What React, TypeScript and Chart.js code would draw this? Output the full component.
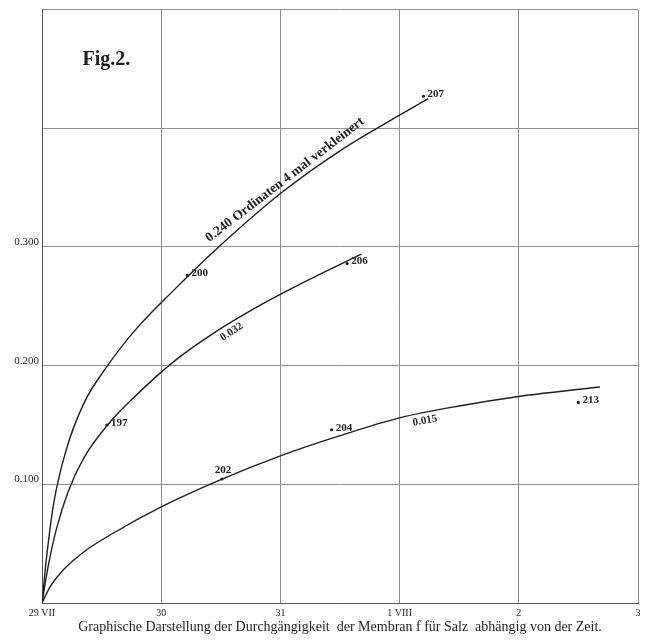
import React, { useEffect, useRef } from "react";
import { Chart, registerables } from "chart.js";

Chart.register(...registerables);

// ---- data ----
const xTickLabels = ["29 VII", "30", "31", "1 VIII", "2", "3"];
const yTickLabels = ["", "0.100", "0.200", "0.300", "", ""];

const upperDays = [0, 0.04, 0.1, 0.2, 0.35, 0.55, 0.8, 1.1, 1.45, 2.0, 2.5, 3.0, 3.24];
const upperValues = [0, 0.04, 0.085, 0.128, 0.168, 0.2, 0.232, 0.263, 0.297, 0.345, 0.381, 0.411, 0.425];

const middleDays = [0, 0.05, 0.12, 0.22, 0.35, 0.55, 0.8, 1.1, 1.45, 1.85, 2.25, 2.68];
const middleValues = [0, 0.03, 0.062, 0.094, 0.122, 0.15, 0.176, 0.203, 0.228, 0.252, 0.273, 0.294];

const lowerDays = [0, 0.07, 0.17, 0.35, 0.6, 1.0, 1.5, 2.0, 2.5, 3.0, 3.5, 4.0, 4.68];
const lowerValues = [0, 0.014, 0.027, 0.043, 0.059, 0.081, 0.104, 0.124, 0.141, 0.156, 0.166, 0.174, 0.182];

const markerNames = ["197", "200", "202", "204", "206", "207", "213"];
const markerDays = [0.545, 1.22, 1.51, 2.43, 2.56, 3.2, 4.5];
const markerValues = [0.15, 0.276, 0.1045, 0.146, 0.286, 0.427, 0.169];

const curveNotes = ["0.240 Ordinaten 4 mal verkleinert", "0.032", "0.015"];
const curveNoteDays = [1.45, 1.47, 3.1];
const curveNoteValues = [0.298, 0.228, 0.158];

const figTitle = "Fig.2.";
const caption =
  "Graphische Darstellung der Durchgängigkeit  der Membran f für Salz  abhängig von der Zeit.";

// ---- styles ----
const SERIF = "'Liberation Serif', 'DejaVu Serif', serif";
const INK = "#1e1e1e";
const GRID = "#8e8e8e";
const noteStyles = [
  { angle: -37.5, below: false, gap: 9, font: `bold 13.5px ${SERIF}` },
  { angle: -33, below: true, gap: 2, font: `bold 11px ${SERIF}` },
  { angle: -10, below: true, gap: 2, font: `bold 11px ${SERIF}` },
];
const markerLabelAbove = [false, false, true, false, false, false, false];

const toPoints = (xs: number[], ys: number[]) => xs.map((x, i) => ({ x, y: ys[i] }));

const annotations = {
  id: "annotations",
  afterDatasetsDraw(chart: any) {
    const { ctx, scales } = chart;
    const xs = scales.x;
    const ys = scales.y;
    ctx.save();
    ctx.fillStyle = INK;

    // Figure title
    ctx.font = `bold 20px ${SERIF}`;
    ctx.textAlign = "left";
    ctx.textBaseline = "middle";
    ctx.fillText(figTitle, xs.getPixelForValue(0.34), ys.getPixelForValue(0.458));

    // Marker labels
    ctx.font = `bold 11px ${SERIF}`;
    markerNames.forEach((name, i) => {
      const px = xs.getPixelForValue(markerDays[i]);
      const py = ys.getPixelForValue(markerValues[i]);
      if (markerLabelAbove[i]) {
        ctx.textAlign = "center";
        ctx.textBaseline = "bottom";
        ctx.fillText(name, px + 1, py - 3);
      } else {
        ctx.textAlign = "left";
        ctx.textBaseline = "middle";
        ctx.fillText(name, px + 4, py - 2);
      }
    });

    // Curve notes
    curveNotes.forEach((note, i) => {
      const st = noteStyles[i];
      const px = xs.getPixelForValue(curveNoteDays[i]);
      const py = ys.getPixelForValue(curveNoteValues[i]);
      ctx.save();
      ctx.translate(px, py);
      ctx.rotate((st.angle * Math.PI) / 180);
      ctx.font = st.font;
      ctx.textAlign = "left";
      ctx.textBaseline = st.below ? "top" : "alphabetic";
      ctx.fillText(note, 0, st.below ? st.gap : -st.gap);
      ctx.restore();
    });
    ctx.restore();
  },
};

export default function App() {
  const ref = useRef<HTMLCanvasElement | null>(null);

  useEffect(() => {
    if (!ref.current) return;
    const lineDs = (xs: number[], ys: number[]) => ({
      data: toPoints(xs, ys),
      showLine: true,
      borderColor: INK,
      borderWidth: 1.4,
      pointRadius: 0,
      cubicInterpolationMode: "monotone" as const,
      fill: false,
    });
    const chart = new Chart(ref.current, {
      type: "scatter",
      data: {
        datasets: [
          lineDs(upperDays, upperValues),
          lineDs(middleDays, middleValues),
          lineDs(lowerDays, lowerValues),
          {
            data: toPoints(markerDays, markerValues),
            showLine: false,
            pointRadius: 1.6,
            pointBackgroundColor: INK,
            pointBorderWidth: 0,
          },
        ],
      },
      options: {
        responsive: false,
        animation: false,
        events: [],
        layout: { padding: { top: 5, right: 11, left: 0, bottom: 0 } },
        plugins: { legend: { display: false }, tooltip: { enabled: false }, title: { display: false } },
        scales: {
          x: {
            type: "linear",
            min: 0,
            max: 5,
            afterFit: (axis: any) => {
              axis.height = 41;
            },
            ticks: {
              stepSize: 1,
              autoSkip: false,
              maxRotation: 0,
              padding: 4,
              color: INK,
              font: { family: SERIF, size: 10 },
              callback: (v: any) => xTickLabels[Math.round(Number(v))] ?? "",
            },
            grid: { color: GRID, lineWidth: 1, drawTicks: false },
            border: { display: true, color: "#555", width: 1 },
            title: {
              display: true,
              text: caption,
              color: INK,
              font: { family: SERIF, size: 14 },
              padding: { top: 0, bottom: 8 },
            },
          },
          y: {
            type: "linear",
            min: 0,
            max: 0.5,
            afterFit: (axis: any) => {
              axis.width = 42;
            },
            ticks: {
              stepSize: 0.1,
              padding: 3,
              labelOffset: -5,
              color: INK,
              font: { family: SERIF, size: 11 },
              callback: (v: any) => yTickLabels[Math.round(Number(v) * 10)] ?? "",
            },
            grid: { color: GRID, lineWidth: 1, drawTicks: false },
            border: { display: true, color: "#555", width: 1 },
          },
        },
      },
      plugins: [annotations],
    });
    return () => chart.destroy();
  }, []);

  return (
    <div style={{ position: "absolute", left: 0, top: 0, width: 649, height: 644, background: "#fff" }}>
      <canvas ref={ref} width={649} height={644} />
    </div>
  );
}
